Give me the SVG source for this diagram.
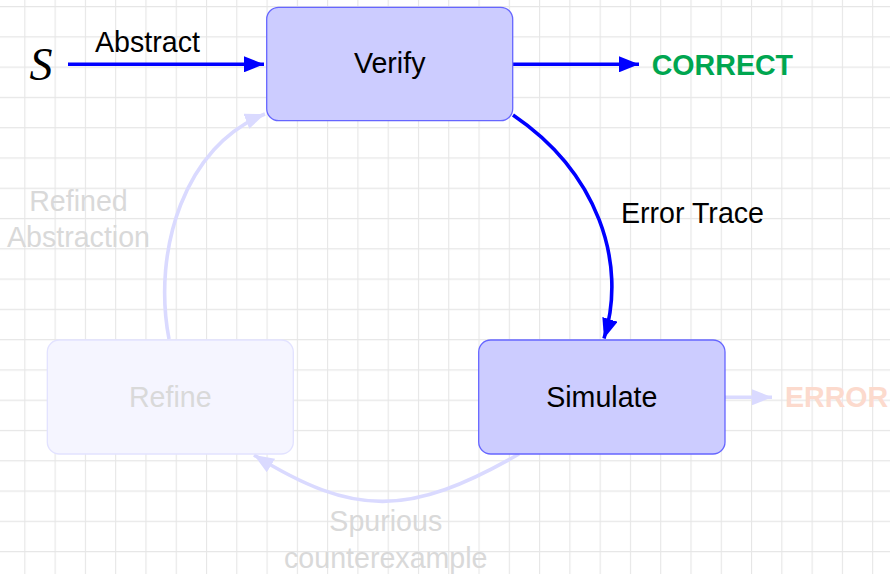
<svg xmlns="http://www.w3.org/2000/svg" width="890" height="574" viewBox="0 0 890 574">
<defs>
<pattern id="grid" x="24.3" y="6" width="30.28" height="30.28" patternUnits="userSpaceOnUse">
<path d="M0.5 0 V30.28 M0 0.5 H30.28" fill="none" stroke="#e6e6e6" stroke-width="1.2"/>
</pattern>
<marker id="ah" viewBox="0 0 20 16" refX="20" refY="8" markerWidth="20" markerHeight="16" markerUnits="userSpaceOnUse" orient="auto">
<path d="M0 0 L20 8 L0 16 Z" fill="#0000ff"/>
</marker>
<marker id="ahf" viewBox="0 0 20 16" refX="20" refY="8" markerWidth="20" markerHeight="16" markerUnits="userSpaceOnUse" orient="auto">
<path d="M0 0 L20 8 L0 16 Z" fill="#dadaff"/>
</marker>
</defs>
<style>
.t{font-family:"Liberation Sans",Arial,sans-serif;font-size:28.6px;text-anchor:middle}
.b{font-weight:bold}
.box{fill:#ccccff;stroke:#6666ff;stroke-width:1.3}
.fbox{fill:#f5f5ff;stroke:#e2e2ff;stroke-width:1.3}
.fade{fill:#d9d9d9}
.e{fill:none;stroke:#0000ff;stroke-width:3.6}
.fe{fill:none;stroke:#dadaff;stroke-width:3.6}
</style>
<rect width="890" height="574" fill="#ffffff"/>
<rect width="890" height="574" fill="url(#grid)"/>
<g id="connectors">
<path class="e" d="M68 64.3 H264" marker-end="url(#ah)"/>
<path class="e" d="M513 64.3 H639" marker-end="url(#ah)"/>
<path class="e" d="M513 115 C597 172 628 262 604 338.5" marker-end="url(#ah)"/>
<path class="fe" d="M725 397.3 H772" marker-end="url(#ahf)"/>
<path class="fe" d="M519 454 C409 517 354 517 254 455" marker-end="url(#ahf)"/>
<path class="fe" d="M169 339 C152 250 185 145 265 114" marker-end="url(#ahf)"/>
<text class="t" x="147.5" y="52">Abstract</text>
<text class="t" x="621" y="223.3" style="text-anchor:start">Error Trace</text>
<text class="t fade" x="78.5" y="211">Refined</text>
<text class="t fade" x="78.5" y="246.7">Abstraction</text>
<text class="t fade" x="385.8" y="530.7">Spurious</text>
<text class="t fade" x="385.8" y="568">counterexample</text>
</g>
<g id="S">
<text x="41" y="80" style="font-family:'Liberation Serif','Times New Roman',serif;font-style:italic;font-size:46px;text-anchor:middle">S</text>
</g>
<g id="verify">
<rect class="box" x="266.7" y="7.3" width="246" height="113.4" rx="12"/>
<text class="t" x="389.7" y="72.5">Verify</text>
</g>
<g id="correct">
<text class="t b" x="651.7" y="74.5" style="text-anchor:start;fill:#00a650">CORRECT</text>
</g>
<g id="simulate">
<rect class="box" x="478.7" y="340" width="246.3" height="114" rx="12"/>
<text class="t" x="601.8" y="407">Simulate</text>
</g>
<g id="error">
<text class="t b" x="785" y="407" style="text-anchor:start;fill:#fcdacd">ERROR</text>
</g>
<g id="refine">
<rect class="fbox" x="47.3" y="340" width="246" height="114" rx="12"/>
<text class="t fade" x="170.3" y="407">Refine</text>
</g>
</svg>
